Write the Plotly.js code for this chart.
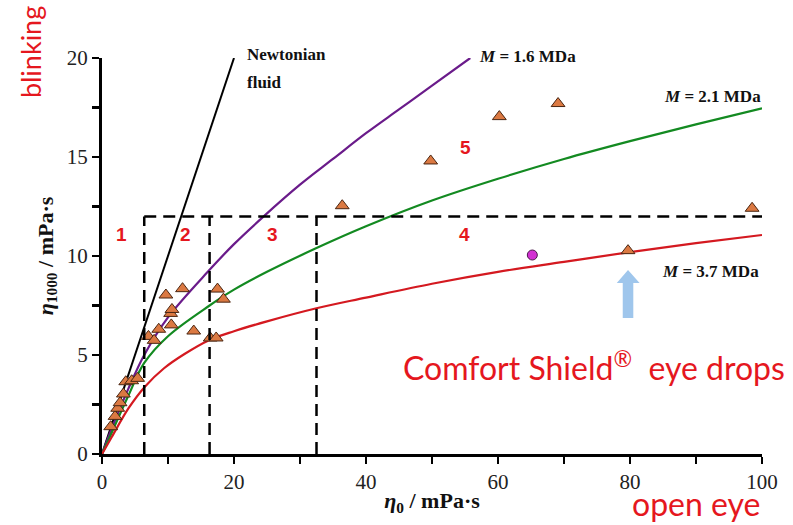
<!DOCTYPE html>
<html>
<head>
<meta charset="utf-8">
<script src="https://cdn.plot.ly/plotly-3.0.1.min.js"></script>
<style>html,body{margin:0;padding:0;background:#fff;}#chart{width:793px;height:525px;}</style>
</head>
<body>
<div id="chart"></div>
<script>
// ---- data ----
const newtonX = [0, 20];
const newtonY = [0, 20];

const m16X = [0, 1.5, 4, 6.4, 10, 16.3, 20, 24.5, 30, 35, 40, 45, 50, 55.8];
const m16Y = [0, 1.3, 3.3, 5.0, 6.9, 9.3, 10.6, 12.0, 13.6, 14.9, 16.2, 17.4, 18.6, 20];

const m21X = [0, 1.5, 4, 6.4, 10, 16.3, 20, 25, 32.5, 40, 50, 60, 70, 80, 90, 100];
const m21Y = [0, 1.1, 2.95, 4.6, 5.95, 7.5, 8.3, 9.2, 10.4, 11.5, 12.8, 13.9, 14.9, 15.8, 16.65, 17.46];

const m37X = [0, 1.5, 4, 6.5, 9.4, 12.5, 16.3, 20, 25, 32.5, 40, 50, 60, 70, 80, 90, 100];
const m37Y = [0, 0.87, 2.3, 3.4, 4.33, 5.05, 5.76, 6.2, 6.7, 7.36, 7.9, 8.6, 9.2, 9.7, 10.2, 10.65, 11.06];

const sampleX = [1.32, 1.98, 2.38, 2.74, 3.24, 3.6, 4.5, 5.4, 7.04, 7.9, 8.6, 9.68, 10.4, 10.6, 10.5, 12.2, 13.9, 16.4, 17.3, 17.5, 18.4, 36.4, 49.8, 60.2, 69.1, 79.7, 98.5];
const sampleY = [1.38, 1.9, 2.31, 2.59, 3.03, 3.65, 3.7, 3.82, 5.94, 5.74, 6.3, 8.03, 7.1, 7.3, 6.52, 8.35, 6.21, 5.86, 5.86, 8.33, 7.82, 12.54, 14.8, 17.04, 17.7, 10.27, 12.41];

const comfortX = [65.2];
const comfortY = [10.05];

const regionX = [6.4, 16.3, 32.5];
const regionTopY = 12;
const regionLabels = ['1', '2', '3', '4', '5'];
const regionLabelX = [2.9, 12.6, 25.9, 54.9, 55.0];
const regionLabelY = [11.1, 11.1, 11.1, 11.1, 15.5];

const xTicks = [0, 20, 40, 60, 80, 100];
const yTicks = [0, 5, 10, 15, 20];

// ---- styles ----
const RED = '#e5171e';
const serif = 'Liberation Serif, Times New Roman, serif';

const traces = [
  {x: newtonX, y: newtonY, mode: 'lines', line: {color: '#000', width: 2}},
  {x: m16X, y: m16Y, mode: 'lines', line: {color: '#6a1b8a', width: 2.2, shape: 'spline'}},
  {x: m21X, y: m21Y, mode: 'lines', line: {color: '#138a21', width: 2.2, shape: 'spline'}},
  {x: m37X, y: m37Y, mode: 'lines', line: {color: '#d41920', width: 2.2, shape: 'spline'}},
  {x: sampleX, y: sampleY, mode: 'markers', marker: {symbol: 'triangle-up', size: 12, color: '#db7942', line: {color: '#4a2612', width: 1}}},
  {x: comfortX, y: comfortY, mode: 'markers', marker: {symbol: 'circle', size: 10, color: '#d22fd2', line: {color: '#4a1a4a', width: 1}}}
];

const shapes = [];
const dash = {color: '#000', width: 2.5, dash: '12px,7px'};
regionX.forEach(v => shapes.push({type: 'line', xref: 'x', yref: 'y', x0: v, x1: v, y0: 0, y1: regionTopY, line: dash}));
shapes.push({type: 'line', xref: 'x', yref: 'y', x0: regionX[0], x1: 100, y0: regionTopY, y1: regionTopY, line: dash});
// blue arrow pointing at the Comfort Shield sample
const ax = sampleX[25];
shapes.push({type: 'path', xref: 'x', yref: 'y',
  path: `M ${ax-1.7},8.64 L ${ax},9.29 L ${ax+1.75},8.64 L ${ax+0.8},8.64 L ${ax+0.8},6.87 L ${ax-0.8},6.87 L ${ax-0.8},8.64 Z`,
  fillcolor: '#9fc6ec', line: {width: 0}});

const annotations = [];
regionLabels.forEach((t, i) => annotations.push({x: regionLabelX[i], y: regionLabelY[i], xref: 'x', yref: 'y', text: '<b>' + t + '</b>', showarrow: false, font: {family: 'Liberation Sans, Arial, sans-serif', size: 19, color: RED}}));
const lbl = (x, y, text) => ({x: x, y: y, xref: 'paper', yref: 'paper', text: text, showarrow: false, xanchor: 'left', yanchor: 'middle', font: {family: serif, size: 17, color: '#111'}});
annotations.push(lbl(0.217, 1.008, '<b>Newtonian</b>'));
annotations.push(lbl(0.217, 0.939, '<b>fluid</b>'));
annotations.push(lbl(0.568, 1.004, '<b><i>M</i> = 1.6 MDa</b>'));
annotations.push(lbl(0.848, 0.902, '<b><i>M</i> = 2.1 MDa</b>'));
annotations.push(lbl(0.845, 0.462, '<b><i>M</i> = 3.7 MDa</b>'));
annotations.push({x: 74.5, y: 4.45, xref: 'x', yref: 'y', text: 'Comfort Shield<sup>®</sup>\u00a0 eye drops', showarrow: false, font: {family: 'Lato, sans-serif', size: 32, color: RED}});
annotations.push({x: 1.0, y: -0.126, xref: 'paper', yref: 'paper', xanchor: 'right', yanchor: 'middle', text: 'open eye', showarrow: false, font: {family: 'Lato, sans-serif', size: 32, color: RED}});
annotations.push({x: -0.109, y: 1.015, xref: 'paper', yref: 'paper', xanchor: 'center', yanchor: 'middle', text: 'blinking', textangle: -90, showarrow: false, font: {family: 'Lato, sans-serif', size: 27, color: RED}});

const layout = {
  width: 793, height: 525,
  margin: {l: 102, r: 31, t: 58, b: 71},
  paper_bgcolor: '#fff', plot_bgcolor: '#fff',
  showlegend: false,
  xaxis: {
    range: [0, 100], tickvals: xTicks, showgrid: false, zeroline: false,
    showline: true, linecolor: '#000', linewidth: 3,
    ticks: 'outside', ticklen: 7, tickwidth: 2.5, tickcolor: '#000',
    minor: {dtick: 10, ticks: 'outside', ticklen: 7, tickwidth: 2.5, tickcolor: '#000', showgrid: false},
    tickfont: {family: serif, size: 21, color: '#222'},
    title: {text: '<b><i>η</i><sub>0</sub> / mPa·s</b>', font: {family: serif, size: 22, color: '#111'}, standoff: 0}
  },
  yaxis: {
    range: [0, 20], tickvals: yTicks, showgrid: false, zeroline: false,
    showline: true, linecolor: '#000', linewidth: 3,
    ticks: 'outside', ticklen: 7, tickwidth: 2.5, tickcolor: '#000',
    minor: {dtick: 2.5, ticks: 'outside', ticklen: 7, tickwidth: 2.5, tickcolor: '#000', showgrid: false},
    tickfont: {family: serif, size: 21, color: '#222'},
    title: {text: '<b><i>η</i><sub>1000</sub> / mPa·s</b>', font: {family: serif, size: 22, color: '#111'}, standoff: 8}
  },
  shapes: shapes,
  annotations: annotations
};

Plotly.newPlot('chart', traces, layout, {displayModeBar: false, staticPlot: true});
</script>
</body>
</html>
